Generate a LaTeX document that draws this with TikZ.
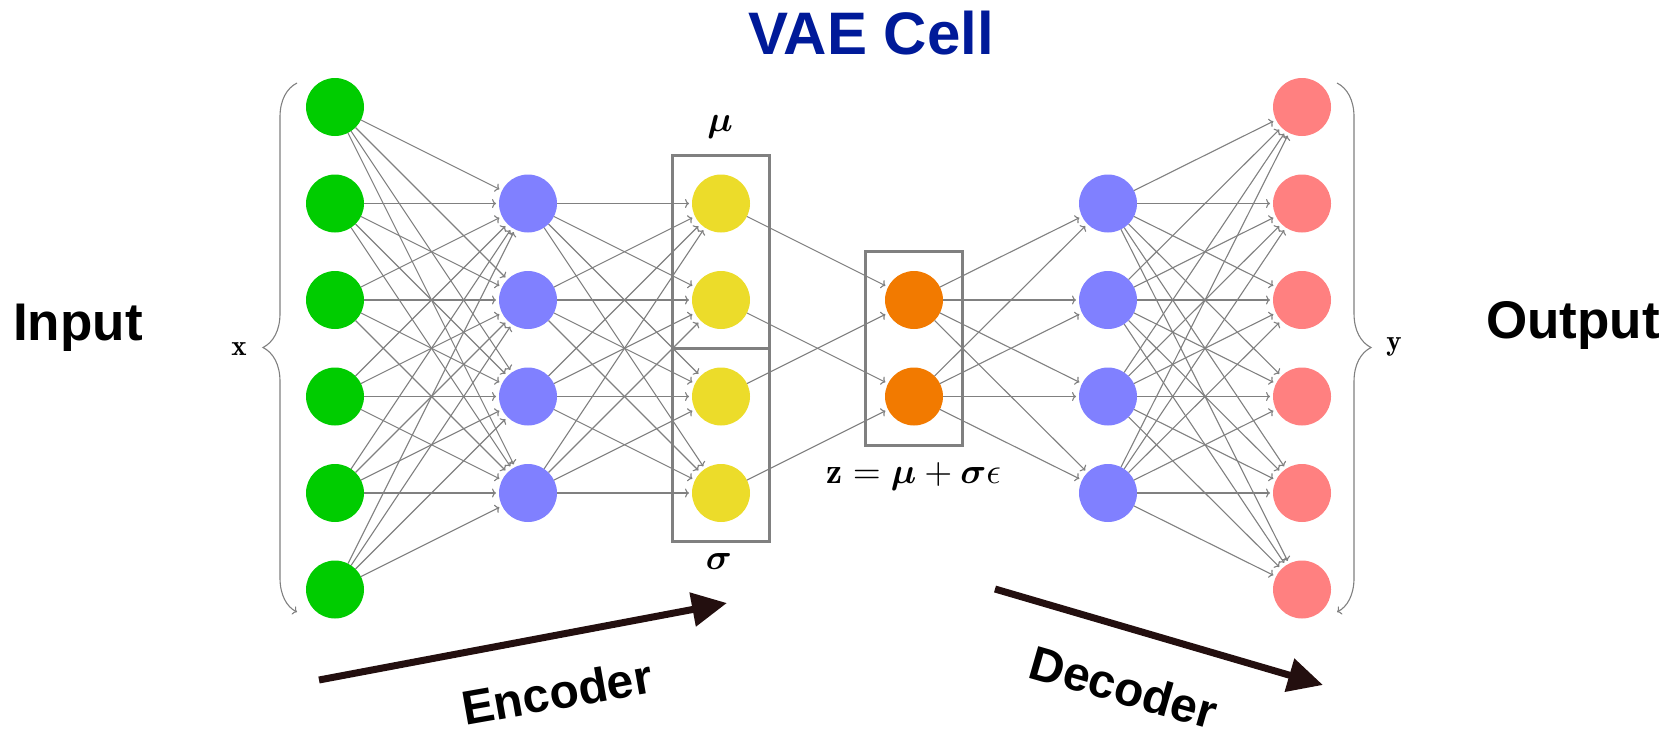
\documentclass[tikz,border=0pt]{standalone}
\usepackage{amsmath,amssymb}
\usepackage{fontspec}
\newfontfamily\labelfont{Liberation Sans}
\usetikzlibrary{arrows.meta,decorations.pathreplacing,fit}

\definecolor{ingreen}{RGB}{0,204,0}
\definecolor{hidblue}{RGB}{128,128,255}
\definecolor{latyellow}{RGB}{236,220,42}
\definecolor{zorange}{RGB}{242,122,0}
\definecolor{outred}{RGB}{255,128,128}
\definecolor{linkgray}{RGB}{128,128,128}
\definecolor{titleblue}{RGB}{0,26,153}
\definecolor{flowdark}{RGB}{35,15,15}

\tikzset{
  neuron/.style={circle,minimum size=58pt,inner sep=0pt,outer sep=0pt},
  link/.style={draw=linkgray,line width=1.1pt,-{To[length=4pt,width=9pt]},shorten >=3pt},
  latentbox/.style={draw=linkgray,line width=3pt,inner sep=19.5pt},
  sidebrace/.style={draw=linkgray,line width=1.1pt,decorate,-{To[length=4pt,width=9pt]}},
  flow/.style={draw=flowdark,line width=7pt,-{Triangle[length=35pt,width=33pt]}},
  biglabel/.style={font=\labelfont\bfseries\fontsize{53}{60}\selectfont},
  flowlabel/.style={font=\labelfont\bfseries\fontsize{48}{54}\selectfont},
  mathlabel/.style={inner sep=1pt,scale=3.6},
  veclabel/.style={inner sep=1pt,scale=2.9}
}

\begin{document}
\begin{tikzpicture}[x=1pt,y=-1pt]
\useasboundingbox (0,0) rectangle (1677,731);

%Title
\node[font=\labelfont\bfseries\fontsize{60}{66}\selectfont,text=titleblue] (title) at (871,33) {VAE Cell};

%Input layer
\foreach \i in {1,...,6}
  \node[neuron,fill=ingreen] (g\i) at (335,{107+96.5*(\i-1)}) {};

%Encoder hidden layer
\foreach \i in {1,...,4}
  \node[neuron,fill=hidblue] (h\i) at (528,{203.5+96.5*(\i-1)}) {};

%Latent layer: mu (l1,l2) and sigma (l3,l4)
\foreach \i in {1,...,4}
  \node[neuron,fill=latyellow] (l\i) at (721,{203.5+96.5*(\i-1)}) {};

%Sampled z
\node[neuron,fill=zorange] (z1) at (914,300) {};
\node[neuron,fill=zorange] (z2) at (914,396.5) {};

%Decoder hidden layer
\foreach \i in {1,...,4}
  \node[neuron,fill=hidblue] (d\i) at (1108,{203.5+96.5*(\i-1)}) {};

%Output layer
\foreach \i in {1,...,6}
  \node[neuron,fill=outred] (o\i) at (1302,{107+96.5*(\i-1)}) {};

%Boxes
\node[latentbox,fit=(l1)(l2)] (mubox) {};
\node[latentbox,fit=(l3)(l4)] (sigmabox) {};
\node[latentbox,fit=(z1)(z2)] (zbox) {};

%Links
\foreach \i in {1,...,6}
  \foreach \j in {1,...,4}
    \draw[link] (g\i) -- (h\j);
\foreach \i in {1,...,4}
  \foreach \j in {1,...,4}
    \draw[link] (h\i) -- (l\j);
\draw[link] (l1) -- (z1);
\draw[link] (l2) -- (z2);
\draw[link] (l3) -- (z1);
\draw[link] (l4) -- (z2);
\foreach \i in {1,2}
  \foreach \j in {1,...,4}
    \draw[link] (z\i) -- (d\j);
\foreach \i in {1,...,4}
  \foreach \j in {1,...,6}
    \draw[link] (d\i) -- (o\j);

%Braces
\coordinate (xtop) at (297,83);
\coordinate (xbot) at (297,612);
\coordinate (ytop) at (1337,83);
\coordinate (ybot) at (1337,612);
\draw[sidebrace,decoration={brace,mirror,amplitude=34pt}] (xtop) -- (xbot);
\draw[sidebrace,decoration={brace,amplitude=34pt}] (ytop) -- (ybot);

%Math labels
\node[veclabel] (xlabel) at (239,349) {$\mathbf{x}$};
\node[veclabel] (ylabel) at (1394,347) {$\mathbf{y}$};
\node[mathlabel] (mulabel) at (720,127) {$\boldsymbol{\mu}$};
\node[mathlabel] (sigmalabel) at (719,561) {$\boldsymbol{\sigma}$};
\node[mathlabel] (zlabel) at (914,476) {$\mathbf{z}=\boldsymbol{\mu}+\boldsymbol{\sigma}\epsilon$};

%Input / Output
\node[biglabel,anchor=base] (inlabel) at (78,340) {Input};
\node[biglabel,anchor=base] (outlabel) at (1573,338) {Output};

%Encoder / Decoder arrows
\coordinate (encstart) at (319,680);
\coordinate (encend) at (727,603);
\coordinate (decstart) at (995,589);
\coordinate (decend) at (1323,685);
\draw[flow] (encstart) -- (encend);
\draw[flow] (decstart) -- (decend);
\node[flowlabel,rotate=10] (enclabel) at (557,692) {Encoder};
\node[flowlabel,rotate=-16] (declabel) at (1124,687) {Decoder};

\end{tikzpicture}
\end{document}
